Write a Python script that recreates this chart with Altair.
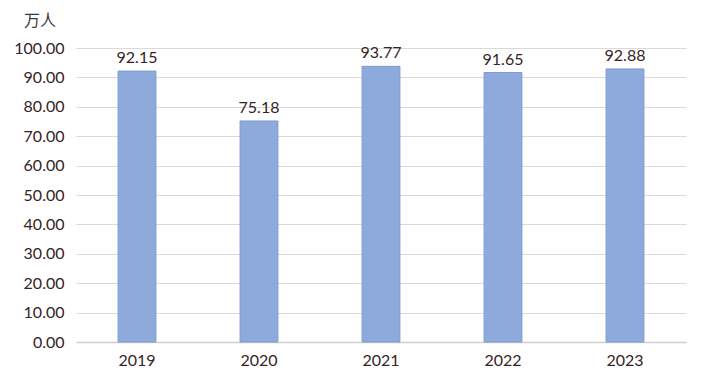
import altair as alt
import pandas as pd

years = ["2019", "2020", "2021", "2022", "2023"]
values = [92.15, 75.18, 93.77, 91.65, 92.88]

df = pd.DataFrame({"year": years, "value": values})

text_color = "#352424"

base = alt.Chart(df).encode(
    x=alt.X("year:N", sort=years,
            scale=alt.Scale(paddingInner=0.69, paddingOuter=0.345),
            axis=alt.Axis(title=None, labelAngle=0, labelFont="Lato", labelFontSize=16,
                          labelColor=text_color, labelPadding=10, ticks=False,
                          domainColor="#cfcfcf", domainWidth=1.5, grid=False)),
    y=alt.Y("value:Q", scale=alt.Scale(domain=[0, 100]),
            axis=alt.Axis(title=None, values=list(range(0, 101, 10)), format=".2f",
                          labelFont="Lato", labelFontSize=16, labelColor=text_color,
                          labelPadding=12, ticks=False, domain=False,
                          gridColor="#d9d9d9", gridWidth=1)),
)

bars = base.mark_bar(color="#8EA9DB", stroke="#7D9AD0", strokeWidth=1)
labels = base.mark_text(dy=-13, font="Lato", fontSize=16, color=text_color).encode(
    text=alt.Text("value:Q", format=".2f"))

chart = (bars + labels).properties(
    width=610, height=294,
    background="white",
    autosize=alt.AutoSizeParams(type="none"),
    padding={"left": 68, "top": 40, "right": 14, "bottom": 42},
    title=alt.TitleParams("万人", anchor="start", frame="group", dx=-52, offset=11,
                          font="Noto Sans CJK SC", fontSize=16, fontWeight="normal",
                          color="#3a3a3a"),
).configure_view(stroke=None)

chart.save("out.html", embed_options={"renderer": "svg", "actions": False})
